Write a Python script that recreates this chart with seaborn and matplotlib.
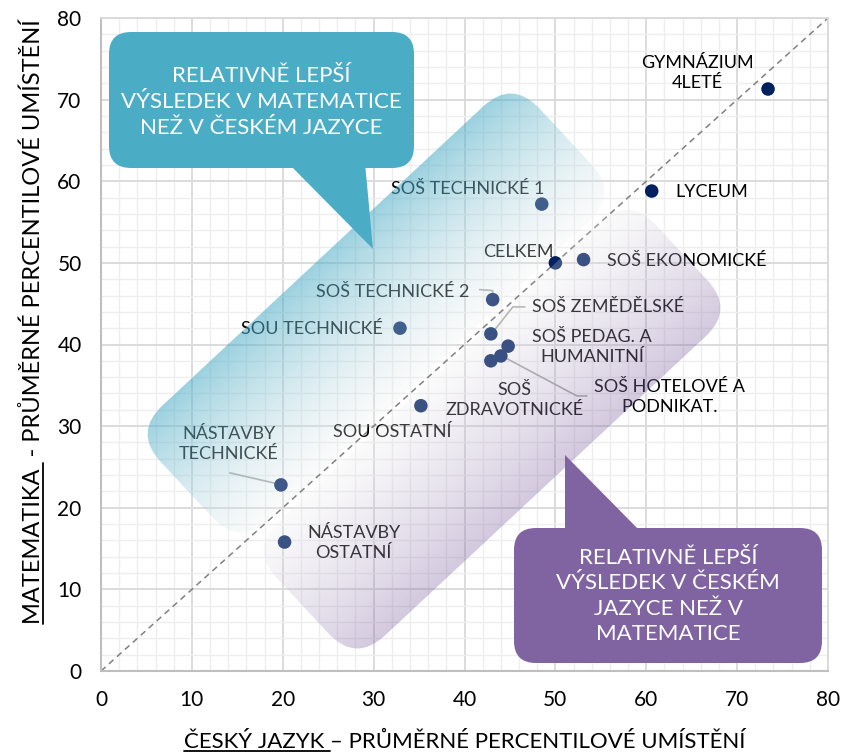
import numpy as np
import matplotlib.pyplot as plt
import matplotlib.colors as mcolors
import seaborn as sns
from matplotlib.patches import FancyBboxPatch, Polygon
from matplotlib.transforms import Affine2D
from matplotlib.lines import Line2D
from matplotlib.ticker import MultipleLocator

# === DATA ===
skoly = ['GYMNÁZIUM\n4LETÉ', 'LYCEUM', 'SOŠ TECHNICKÉ 1', 'CELKEM', 'SOŠ EKONOMICKÉ',
         'SOŠ TECHNICKÉ 2', 'SOU TECHNICKÉ', 'SOŠ ZEMĚDĚLSKÉ', 'SOŠ PEDAG. A\nHUMANITNÍ',
         'SOŠ HOTELOVÉ A\nPODNIKAT.', 'SOŠ\nZDRAVOTNICKÉ', 'SOU OSTATNÍ',
         'NÁSTAVBY\nTECHNICKÉ', 'NÁSTAVBY\nOSTATNÍ']
cesky = [73.4, 60.6, 48.5, 50.0, 53.1, 43.1, 32.9, 42.9, 44.8, 44.0, 42.9, 35.2, 19.8, 20.2]
matematika = [71.3, 58.8, 57.2, 50.0, 50.4, 45.5, 42.0, 41.3, 39.8, 38.6, 38.0, 32.5, 22.8, 15.8]
osa = [0, 80]
ticks = list(range(0, 81, 10))

# label placement (pixel offsets from the point, alignment)
label_pos = [(-71, 16, 'center'), (24, -1, 'left'), (-74, 15, 'center'), (-2, 11, 'right'),
             (23, -1, 'left'), (-23, 8, 'right'), (-17, -1, 'right'), (41, 27, 'left'),
             (84, -1, 'center'), (169, -41, 'center'), (24, -39, 'center'),
             (-29, -26, 'center'), (-52, 41, 'center'), (69, -1, 'center')]
# leader lines: index of point, offsets in pixels
leaders = {5: [(-13, 10), (0, 9), (0, 4)],
           7: [(34, 27), (22, 27), (3, 3)],
           9: [(1, 0), (76, -40), (86, -40)],
           12: [(-51, 12), (-3, 1)]}

sns.set_theme(style='white')
plt.rcParams['font.family'] = ['Lato', 'DejaVu Sans']

W, H = 865, 754
fig = plt.figure(figsize=(W / 100, H / 100), dpi=100)
AX0, AY0, AW, AH = 101, 83, 727, 653
ax = fig.add_axes([AX0 / W, AY0 / H, AW / W, AH / H])
pxT = Affine2D().scale(1 / AW, 1 / AH) + ax.transAxes

# grid
ax.set_xticks(ticks)
ax.set_yticks(ticks)
ax.xaxis.set_minor_locator(MultipleLocator(2))
ax.yaxis.set_minor_locator(MultipleLocator(2))
ax.grid(which='major', color='#D9D9D9', lw=1.3)
ax.grid(which='minor', color='#EEEEEE', lw=1.0)
ax.set_axisbelow(True)
ax.tick_params(which='both', length=0)
ax.tick_params(axis='x', pad=14, labelsize=15, labelcolor='black')
ax.tick_params(axis='y', pad=14, labelsize=15, labelcolor='black')
for s in ['left', 'bottom']:
    ax.spines[s].set_color('#BFBFBF')
    ax.spines[s].set_linewidth(1.5)
for s in ['top', 'right']:
    ax.spines[s].set_color('#D9D9D9')
    ax.spines[s].set_linewidth(1.3)

# diagonal
ax.plot(osa, osa, ls=(0, (4, 3)), color='#808080', lw=1.1, zorder=2)

# points
sns.scatterplot(x=cesky, y=matematika, color='#002060', s=95, edgecolor='none', zorder=3, ax=ax)

sx, sy = 80 / AW, 80 / AH
for i, (name, x, y) in enumerate(zip(skoly, cesky, matematika)):
    dx, dy, ha = label_pos[i]
    ax.annotate(name, (x, y), xytext=(dx * 0.72, dy * 0.72), textcoords='offset points',
                ha=ha, va='center', fontsize=13, linespacing=1.3, color='black', zorder=4)
for i, pts in leaders.items():
    lx = [cesky[i] + p[0] * sx for p in pts]
    ly = [matematika[i] + p[1] * sy for p in pts]
    ax.plot(lx, ly, color='#A6A6A6', lw=1.2, zorder=2)

# gradient shapes overlay
gx, gy = np.meshgrid(np.arange(AW) + 0.5, np.arange(AH) + 0.5)


def gradient_shape(cx, cy, L, Hh, r, ang, c0, a0, c1, a1):
    tr = Affine2D().rotate_deg(ang).translate(cx, cy) + pxT
    patch = FancyBboxPatch((-L / 2, -Hh / 2), L, Hh, boxstyle=f'round,pad=0,rounding_size={r}',
                           transform=tr, facecolor='none', edgecolor='none')
    ax.add_patch(patch)
    vx, vy = -np.sin(np.radians(ang)), np.cos(np.radians(ang))
    t = 0.5 - ((gx - cx) * vx + (gy - cy) * vy) / Hh
    t = np.clip(t, 0, 1)
    c0 = np.array(mcolors.to_rgb(c0))
    c1 = np.array(mcolors.to_rgb(c1))
    rgb = c0 * (1 - t[..., None]) + c1 * t[..., None]
    a = a0 * (1 - t) + a1 * t
    img = np.dstack([rgb, a])
    im = ax.imshow(img, extent=(0, 1, 0, 1), transform=ax.transAxes, origin='lower',
                   aspect='auto', zorder=5, interpolation='bilinear')
    im.set_clip_path(patch)


gradient_shape(275, 358, 518, 156, 40, 43, '#4BACC6', 0.55, '#F0F0F0', 0.25)
gradient_shape(391, 242, 518, 156, 40, 43, '#F0F0F0', 0.25, '#8064A2', 0.35)


# callouts
def callout(x0, y0, w, h, tail, color, text, tx, ty):
    ax.add_patch(FancyBboxPatch((x0, y0), w, h, boxstyle='round,pad=0,rounding_size=22',
                                transform=pxT, fc=color, ec='none', zorder=8, clip_on=False))
    ax.add_patch(Polygon(tail, closed=True, transform=pxT, fc=color, ec='none', zorder=8,
                         clip_on=False))
    ax.text(tx / AW, ty / AH, text, transform=ax.transAxes, ha='center', va='center',
            color='white', fontsize=16, linespacing=1.35, zorder=9)


callout(8, 503, 305, 136, [(187, 508), (264, 508), (272, 422)], '#4BACC6',
        'RELATIVNĚ LEPŠÍ\nVÝSLEDEK V MATEMATICE\nNEŽ V ČESKÉM JAZYCE', 160, 569)
callout(413, 8, 308, 135, [(464, 138), (541, 138), (464, 216)], '#8064A2',
        'RELATIVNĚ LEPŠÍ\nVÝSLEDEK V ČESKÉM\nJAZYCE NEŽ V\nMATEMATICE', 567, 75)

ax.set_xlim(osa)
ax.set_ylim(osa)


# axis titles with underlined prefix
def underlined(x_px, y_px, full, prefix, rot, size):
    fig.text(x_px / W, y_px / H, full, ha='center', va='baseline', rotation=rot,
             rotation_mode='anchor', fontsize=size, color='black')
    fig.canvas.draw()
    r = fig.canvas.get_renderer()
    tmp = fig.text(0, 0, prefix, fontsize=size)
    pw = tmp.get_window_extent(r).width
    tmp.remove()
    tmp = fig.text(0, 0, full, fontsize=size)
    fw = tmp.get_window_extent(r).width
    tmp.remove()
    if rot == 0:
        xs = [x_px - fw / 2, x_px - fw / 2 + pw]
        ys = [y_px - 3, y_px - 3]
    else:
        xs = [x_px + 3, x_px + 3]
        ys = [y_px - fw / 2, y_px - fw / 2 + pw]
    fig.add_artist(Line2D([v / W for v in xs], [v / H for v in ys], color='black', lw=1.3,
                          transform=fig.transFigure))


underlined(465, 6, 'ČESKÝ JAZYK – PRŮMĚRNÉ PERCENTILOVÉ UMÍSTĚNÍ', 'ČESKÝ JAZYK ', 0, 16)
underlined(40, 432, 'MATEMATIKA  - PRŮMĚRNÉ PERCENTILOVÉ UMÍSTĚNÍ', 'MATEMATIKA ', 90, 17)

fig.savefig('out.png', dpi=100)
